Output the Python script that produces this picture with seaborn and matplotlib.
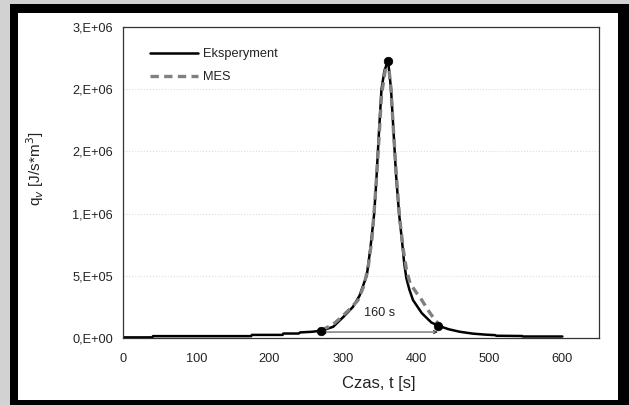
import matplotlib
matplotlib.use('Agg')
import matplotlib.pyplot as plt
from matplotlib.patches import Rectangle
import seaborn as sns
import pandas as pd

# Eksperyment (solid black)
t_exp = [0, 40, 41, 175, 176, 218, 219, 240, 242, 258,
         271, 287, 301, 314, 323, 333, 338, 343, 346, 349,
         353, 357, 362, 366, 370, 373, 377, 381, 384, 387,
         391, 396, 408, 421, 430, 445, 460, 478, 495, 508,
         510, 545, 546, 600]
q_exp = [5e3, 5e3, 15e3, 15e3, 25e3, 25e3, 36e3, 36e3, 45e3, 50e3,
         59e3, 90e3, 170e3, 250e3, 340e3, 506e3, 730e3, 1.0e6, 1.27e6, 1.6e6,
         2.0e6, 2.15e6, 2.23e6, 2.0e6, 1.6e6, 1.3e6, 1.0e6, 0.78e6, 0.6e6, 0.48e6,
         0.39e6, 0.305e6, 0.2e6, 0.125e6, 0.1e6, 0.07e6, 0.05e6, 0.035e6, 0.027e6, 0.023e6,
         0.018e6, 0.016e6, 0.012e6, 0.012e6]

# MES (dashed grey)
t_mes = [271, 287, 300, 311, 321, 329, 335, 340, 344, 348,
         353, 358, 362, 366, 370, 374, 378, 383, 387, 392,
         400, 408, 417, 426, 432]
q_mes = [62e3, 110e3, 177e3, 240e3, 305e3, 420e3, 580e3, 800e3, 1.1e6, 1.45e6,
         1.95e6, 2.15e6, 2.23e6, 2.0e6, 1.6e6, 1.25e6, 0.95e6, 0.7e6, 0.55e6, 0.44e6,
         0.37e6, 0.305e6, 0.22e6, 0.145e6, 0.11e6]

# marked points
t_pts = [271, 362, 430]
q_pts = [59e3, 2.23e6, 100e3]

x_ticks = [0, 100, 200, 300, 400, 500, 600]
y_ticks = [0, 5e5, 1e6, 1.5e6, 2e6, 2.5e6]
y_labels = ["0,E+00", "5,E+05", "1,E+06", "2,E+06", "2,E+06", "3,E+06"]

df_exp = pd.DataFrame({"t": t_exp, "q": q_exp})
df_mes = pd.DataFrame({"t": t_mes, "q": q_mes})
df_pts = pd.DataFrame({"t": t_pts, "q": q_pts})

sns.set_style("white")
plt.rcParams['font.family'] = ['Liberation Sans', 'DejaVu Sans']

W, H = 629, 405
fig = plt.figure(figsize=(W / 100, H / 100), dpi=100)
fig.patch.set_facecolor('#d2d2d2')

# black frame with white inside
fig.patches.append(Rectangle((10 / W, 0), 1 - 10 / W, 1 - 4 / H,
                             transform=fig.transFigure, facecolor='black',
                             edgecolor='none', zorder=-10))
fig.patches.append(Rectangle((18 / W, 5 / H), (618 - 18) / W, (392 - 5) / H,
                             transform=fig.transFigure, facecolor='white',
                             edgecolor='none', zorder=-9))

ax = fig.add_axes([123 / W, 1 - 338 / H, (599 - 123) / W, (338 - 27) / H])
ax.set_facecolor('white')

sns.lineplot(data=df_exp, x="t", y="q", ax=ax, color='black', lw=1.8,
             label='Eksperyment', sort=False)
sns.lineplot(data=df_mes, x="t", y="q", ax=ax, color='#808080', lw=2.4,
             label='MES', sort=False)
ax.lines[-1].set_dashes([2.5, 1.6])
sns.scatterplot(data=df_pts, x="t", y="q", ax=ax, color='black', s=38,
                edgecolor='black', zorder=5, legend=False)

# 160 s interval
ax.annotate('', xy=(t_pts[0], 48e3), xytext=(t_pts[2], 48e3),
            arrowprops=dict(arrowstyle='<->', color='#333333', lw=0.7,
                            mutation_scale=6, shrinkA=0, shrinkB=0))
ax.text((t_pts[0] + t_pts[2]) / 2, 0.2e6, '160 s', ha='center', va='center',
        fontsize=9.2, color='#222222')

ax.set_xlim(0, 650)
ax.set_ylim(0, 2.5e6)
ax.set_xticks(x_ticks)
ax.set_xticklabels([str(v) for v in x_ticks])
ax.set_yticks(y_ticks)
ax.set_yticklabels(y_labels)
ax.tick_params(axis='both', direction='out', length=3.6, width=0.8,
               color='#333333', labelsize=9.2, labelcolor='#222222')
ax.tick_params(axis='x', pad=7)
ax.tick_params(axis='y', pad=3.6)

for y in y_ticks[1:]:
    ax.axhline(y, color='#dddddd', lw=0.8, ls=':', zorder=0)

for sp in ax.spines.values():
    sp.set_visible(True)
    sp.set_color('#333333')
    sp.set_linewidth(0.9)

ax.set_xlabel('Czas, t [s]', fontsize=12, color='#222222')
ax.xaxis.set_label_coords((379 - 123) / 476, -(376 - 338) / 311)
ax.set_ylabel('q$_v$ [J/s*m$^3$]', fontsize=11, color='#222222')
ax.yaxis.set_label_coords(-(123 - 46) / 476, (338 - 169) / 311)

leg = ax.legend(loc='upper left', bbox_to_anchor=(0.057, 0.932), frameon=False,
                fontsize=9.2, handlelength=3.75, handletextpad=0.35,
                labelspacing=0.86, borderpad=0, borderaxespad=0)
for t in leg.get_texts():
    t.set_color('#222222')
leg.get_lines()[1].set_dashes([2.5, 1.6])

fig.savefig('out.png', dpi=100, facecolor=fig.get_facecolor())
